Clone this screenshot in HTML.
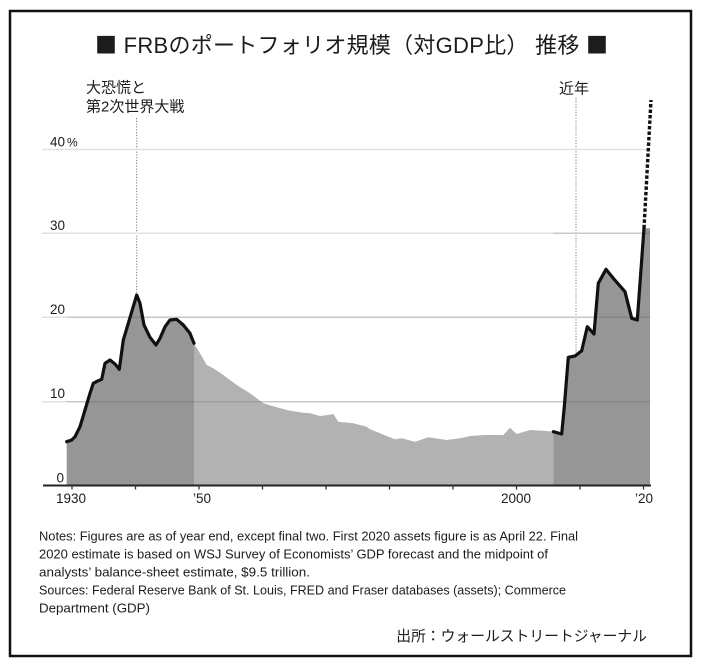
<!DOCTYPE html>
<html>
<head>
<meta charset="utf-8">
<style>
  html, body { margin: 0; padding: 0; background: #ffffff; }
  body { width: 701px; height: 667px; overflow: hidden; }
  svg { display: block; }
  text { font-family: "Liberation Sans", "Noto Sans CJK JP", sans-serif; fill: #1c1c1c; }
  .jp { font-family: "Liberation Sans", "Noto Sans CJK JP", sans-serif; }
  .sq { font-family: "Noto Sans CJK JP", sans-serif; }
</style>
</head>
<body>
<svg width="701" height="667" viewBox="0 0 701 667" xmlns="http://www.w3.org/2000/svg">
  <rect x="0" y="0" width="701" height="667" fill="#ffffff"/>
  <!-- outer frame -->
  <rect x="10" y="11" width="681" height="645" fill="none" stroke="#111" stroke-width="2.5"/>

  <!-- title -->
  <text class="jp" x="95" y="53" font-size="22" textLength="513" lengthAdjust="spacing"><tspan class="sq">■</tspan> FRBのポートフォリオ規模（対GDP比） 推移 <tspan class="sq">■</tspan></text>

  <!-- annotation labels -->
  <text class="jp" x="86" y="92.5" font-size="15">大恐慌と</text>
  <text class="jp" x="86" y="111.5" font-size="15">第2次世界大戦</text>
  <text class="jp" x="559" y="93.5" font-size="15">近年</text>

  <!-- annotation dotted lines -->
  <line x1="136.7" y1="118" x2="136.7" y2="295" stroke="#777" stroke-width="1" stroke-dasharray="1.2 1.6"/>
  <line x1="576" y1="98" x2="576" y2="353" stroke="#777" stroke-width="1" stroke-dasharray="1.2 1.6"/>

  <!-- gridlines (under fill) -->
  <g stroke="#e1e1e1" stroke-width="1.5">
    <line x1="42" y1="149.5" x2="650" y2="149.5"/>
    <line x1="42" y1="233.3" x2="650" y2="233.3"/>
    <line x1="42" y1="317.3" x2="650" y2="317.3"/>
    <line x1="42" y1="401.7" x2="650" y2="401.7"/>
  </g>

  <!-- left dark area -->
  <polygon fill="#969696" points="66.7,485 66.7,441.7 71.7,440 75,436.7 80,426.7 85,410 90,393.3 93.3,383.3 98.3,380.7 101.7,379.3 105,363.3 110,360 115,364 119.3,369.3 123.3,340 128.3,323.3 136.7,295 140,303.3 144,325 150,337.3 156,345 160,338.3 165,326.7 170,320 176.7,319.3 183.3,325 190,333.3 194,343.3 194,485"/>

  <!-- middle light area -->
  <polygon fill="#b2b2b2" points="194,485 194,343.3 200,353.3 206.7,365 213.3,368.3 223.3,375 236.7,385 250,393.3 263.3,403.3 276.7,407.3 290,410.7 303.3,412.7 310,413.3 320,416 328.3,415 333.3,414 338.3,421.7 353.3,423.3 366.7,426.7 370,429.3 380,433.3 395,439.3 401.7,438.3 415,441.7 428.3,437.3 446.7,440 460,438.3 470,436 485,435 503.3,435 510,427.7 516.7,434 530,430 543.3,430.7 553.3,431.7 553.3,485"/>

  <!-- right dark area -->
  <polygon fill="#969696" points="553.3,485 553.3,431.7 561.7,434 564.3,406.7 568.3,357.3 575,356 581.7,350.7 587.3,326.7 594,334 598.3,283.3 606,269.3 613.3,278.3 625,291.7 631.7,318.3 637.3,320 644,228.3 650,228.3 650,485"/>

  <!-- gridlines over fill -->
  <g stroke="rgba(0,0,0,0.11)" stroke-width="1.5">
    <line x1="66.7" y1="317.3" x2="650" y2="317.3"/>
    <line x1="66.7" y1="401.7" x2="650" y2="401.7"/>
    <line x1="553" y1="233.3" x2="650" y2="233.3"/>
  </g>

  <!-- black lines -->
  <polyline fill="none" stroke="#111" stroke-width="3.2" stroke-linejoin="round" stroke-linecap="round" points="66.7,441.7 71.7,440 75,436.7 80,426.7 85,410 90,393.3 93.3,383.3 98.3,380.7 101.7,379.3 105,363.3 110,360 115,364 119.3,369.3 123.3,340 128.3,323.3 136.7,295 140,303.3 144,325 150,337.3 156,345 160,338.3 165,326.7 170,320 176.7,319.3 183.3,325 190,333.3 194,343.3"/>
  <polyline fill="none" stroke="#111" stroke-width="3.2" stroke-linejoin="round" stroke-linecap="round" points="553.3,431.7 561.7,434 564.3,406.7 568.3,357.3 575,356 581.7,350.7 587.3,326.7 594,334 598.3,283.3 606,269.3 613.3,278.3 625,291.7 631.7,318.3 637.3,320 644,228.3"/>
  <line x1="644" y1="228.3" x2="651" y2="100" stroke="#111" stroke-width="3.4" stroke-dasharray="3.5 2"/>

  <!-- x axis -->
  <line x1="43" y1="485.5" x2="651" y2="485.5" stroke="#222" stroke-width="2"/>
  <g stroke="#333" stroke-width="1.3">
    <line x1="72" y1="485" x2="72" y2="489.5"/>
    <line x1="135.5" y1="485" x2="135.5" y2="489.5"/>
    <line x1="199" y1="485" x2="199" y2="489.5"/>
    <line x1="262.5" y1="485" x2="262.5" y2="489.5"/>
    <line x1="326" y1="485" x2="326" y2="489.5"/>
    <line x1="389.5" y1="485" x2="389.5" y2="489.5"/>
    <line x1="453" y1="485" x2="453" y2="489.5"/>
    <line x1="516.5" y1="485" x2="516.5" y2="489.5"/>
    <line x1="580" y1="485" x2="580" y2="489.5"/>
    <line x1="643.5" y1="485" x2="643.5" y2="489.5"/>
  </g>

  <!-- y labels -->
  <g font-size="13.5">
    <text x="65" y="146.5" text-anchor="end">40</text>
    <text x="67" y="146.5" font-size="12">%</text>
    <text x="65" y="230" text-anchor="end">30</text>
    <text x="65" y="314" text-anchor="end">20</text>
    <text x="65" y="398" text-anchor="end">10</text>
    <text x="64" y="482.5" text-anchor="end">0</text>
  </g>

  <!-- x labels -->
  <g font-size="13.5" text-anchor="middle">
    <text x="71" y="503">1930</text>
    <text x="202" y="503">’50</text>
    <text x="516" y="503">2000</text>
    <text x="644" y="503">’20</text>
  </g>

  <!-- notes -->
  <g font-size="13" fill="#222">
    <text x="39" y="540.7" textLength="539" lengthAdjust="spacingAndGlyphs">Notes: Figures are as of year end, except final two. First 2020 assets figure is as April 22. Final</text>
    <text x="39" y="558.6" textLength="509" lengthAdjust="spacingAndGlyphs">2020 estimate is based on WSJ Survey of Economists’ GDP forecast and the midpoint of</text>
    <text x="39" y="576.5" textLength="271" lengthAdjust="spacingAndGlyphs">analysts’ balance-sheet estimate, $9.5 trillion.</text>
    <text x="39" y="594.4" textLength="527" lengthAdjust="spacingAndGlyphs">Sources: Federal Reserve Bank of St. Louis, FRED and Fraser databases (assets); Commerce</text>
    <text x="39" y="612.3" textLength="111" lengthAdjust="spacingAndGlyphs">Department (GDP)</text>
  </g>

  <!-- source -->
  <text class="jp" x="647" y="641" font-size="14.8" text-anchor="end">出所：ウォールストリートジャーナル</text>
</svg>
</body>
</html>
